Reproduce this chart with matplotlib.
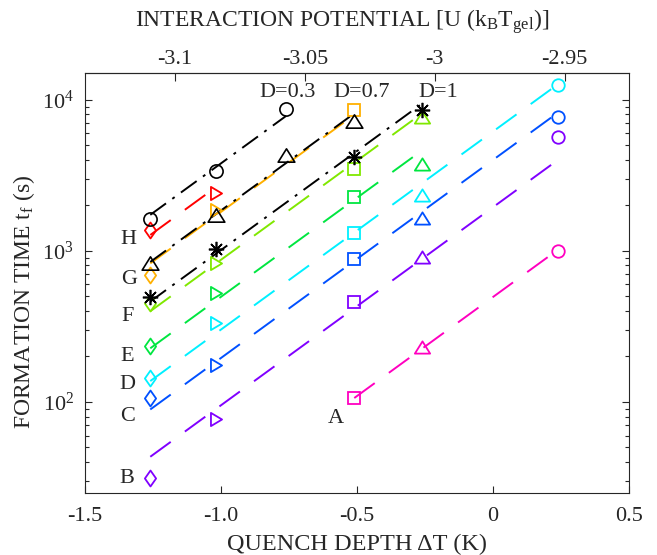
import numpy as np
import matplotlib
matplotlib.use("Agg")
import matplotlib.pyplot as plt
from matplotlib.path import Path

plt.rcParams["font.family"] = ["Liberation Serif", "DejaVu Serif"]
plt.rcParams["mathtext.fontset"] = "custom"
plt.rcParams["mathtext.rm"] = "Liberation Serif"
plt.rcParams["mathtext.it"] = "Liberation Serif:italic"
plt.rcParams["axes.unicode_minus"] = False

# quench depth columns (K)
x_dia, x_rtri, x_circ_b, x_sq, x_tri, x_circ = -1.26, -1.02, -0.76, -0.51, -0.26, 0.24

# coloured series A..H: (marker, x, y)
series = {
    "H": ("#ff0000", [("d", x_dia, 1380), (">", x_rtri, 2420)]),
    "G": ("#ffb000", [("d", x_dia, 693), (">", x_rtri, 1870), ("s", x_sq, 8590)]),
    "F": ("#80e800", [("d", x_dia, 453), (">", x_rtri, 834), ("s", x_sq, 3490), ("^", x_tri, 7710)]),
    "E": ("#00e640", [("d", x_dia, 235), (">", x_rtri, 527), ("s", x_sq, 2280), ("^", x_tri, 3770)]),
    "D": ("#00f0ff", [("d", x_dia, 144), (">", x_rtri, 333), ("s", x_sq, 1315), ("^", x_tri, 2350), ("o", x_circ, 12400)]),
    "C": ("#0050ff", [("d", x_dia, 106), (">", x_rtri, 176), ("s", x_sq, 886), ("^", x_tri, 1656), ("o", x_circ, 7710)]),
    "B": ("#8000ff", [("d", x_dia, 31.4), (">", x_rtri, 77), ("s", x_sq, 459), ("^", x_tri, 912), ("o", x_circ, 5690)]),
    "A": ("#ff00c0", [("s", x_sq, 106), ("^", x_tri, 231), ("o", x_circ, 1000)]),
}

# black series at fixed D
d03_x = [x_dia, x_rtri, x_circ_b]
d03_y = [1630, 3390, 8720]
d07_x = [x_dia, x_rtri, x_circ_b, x_sq]
d07_y = [835, 1730, 4330, 7260]
d1_x = [x_dia, x_rtri, x_sq, x_tri]
d1_y = [495, 1030, 4200, 8590]

# all fit lines share one slope (decades per K)
common_slope = 1.31

# letter labels (x, y)
letters = {"H": (-1.342, 1183), "G": (-1.338, 643), "F": (-1.342, 366), "E": (-1.345, 199),
           "D": (-1.345, 130), "C": (-1.345, 80), "B": (-1.345, 31.4), "A": (-0.577, 78)}
d_labels = [("D=0.3", -0.757, 11100), ("D=0.7", -0.482, 11100), ("D=1", -0.202, 11100)]

# matlab-like marker shapes
diamond = Path([(0, 1), (0.7, 0), (0, -1), (-0.7, 0), (0, 1)], closed=True)
tri_up = Path([(-1, -0.8), (1, -0.8), (0, 0.8), (-1, -0.8)], closed=True)
tri_right = Path([(-0.84, 1), (0.84, 0), (-0.84, -1), (-0.84, 1)], closed=True)
shapes = {"d": (diamond, 11.5), ">": (tri_right, 9.5), "s": ("s", 8), "^": (tri_up, 11), "o": ("o", 9)}

dash = (0, (13, 9))
dashdot = (0, (10, 4, 1.5, 4))
txt = "#262626"

fig = plt.figure(figsize=(6.57, 5.55), dpi=100)
ax = fig.add_axes([85 / 657, 1 - 493 / 555, 544 / 657, 420 / 555])
ax.set_yscale("log")


def fit_line(xs, ys):
    lx = np.array([min(xs), max(xs)])
    b = np.mean(np.log10(ys)) - common_slope * np.mean(xs)
    return lx, 10 ** (b + common_slope * lx)


for name, (col, pts) in series.items():
    xs = [p[1] for p in pts]
    ys = [p[2] for p in pts]
    lx, ly = fit_line(xs, ys)
    ax.plot(lx, ly, color=col, lw=1.4, linestyle=dash, zorder=2)
    for m, x, y in pts:
        mk, ms = shapes[m]
        ax.plot(x, y, marker=mk, ms=ms, mfc="none", mec=col, mew=1.3,
                linestyle="none", zorder=4)

for xs, ys, m, ms in [(d03_x, d03_y, "o", 9.5), (d07_x, d07_y, tri_up, 12), (d1_x, d1_y, (8, 2, 0), 11)]:
    lx, ly = fit_line(xs, ys)
    ax.plot(lx, ly, color="black", lw=1.4, linestyle=dashdot, zorder=3)
    ax.plot(xs, ys, marker=m, ms=ms, mfc="none", mec="black", mew=1.2,
            linestyle="none", zorder=5)

for k, (x, y) in letters.items():
    ax.text(x, y, k, fontsize=16, color=txt, ha="center", va="center")
for s, x, y in d_labels:
    ax.text(x, y, s, fontsize=16, color=txt, ha="center", va="center")

ax.set_xlim(-1.5, 0.5)
ax.set_ylim(25, 15000)
ax.set_xticks([-1.5, -1.0, -0.5, 0, 0.5])
ax.set_xticklabels(["-1.5", "-1.0", "-0.5", "0", "0.5"])
ax.tick_params(which="both", direction="in", right=True, top=False, colors=txt,
               labelsize=16)
ax.tick_params(which="major", length=5, width=0.8)
ax.tick_params(which="minor", length=3, width=0.8)
ax.tick_params(axis="x", pad=10)
ax.tick_params(axis="y", pad=8)
for sp in ax.spines.values():
    sp.set_color(txt)
    sp.set_linewidth(0.8)

ax.set_xlabel("QUENCH DEPTH \u0394T (K)", fontsize=17.5, color=txt, labelpad=6)
ax.set_ylabel(r"FORMATION TIME t$_\mathrm{f}$ (s)", fontsize=17, color=txt)
ax.yaxis.set_label_coords(-0.089, 0.455)

u0, du = -2.9776, 0.1047
top = ax.secondary_xaxis("top", functions=(lambda x: u0 + du * x, lambda u: (u - u0) / du))
top.set_xticks([-3.1, -3.05, -3.0, -2.95])
top.set_xticklabels(["-3.1", "-3.05", "-3", "-2.95"])
top.tick_params(direction="in", length=6, width=0.8, colors=txt, labelsize=16, pad=3)
top.spines["top"].set_color(txt)
fig.text(342 / 657, 1 - 27 / 555, r"INTERACTION POTENTIAL [U (k$_\mathrm{B}$T$_\mathrm{gel}$)]",
         fontsize=17, color=txt, ha="center", va="baseline")

fig.savefig("out.png", dpi=100)
